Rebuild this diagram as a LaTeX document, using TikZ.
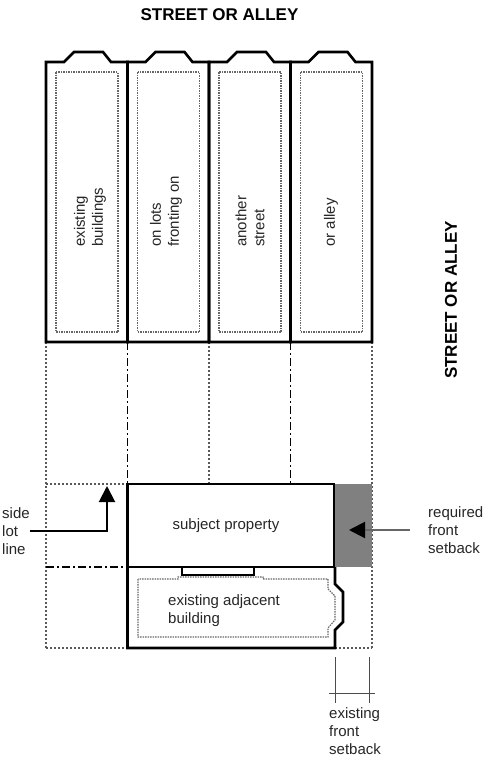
\documentclass[tikz,border=0pt]{standalone}
\usepackage{fontspec}
\setmainfont{Liberation Sans}
\usetikzlibrary{arrows.meta}
\tikzset{
  wall/.style = {draw = black, line width = 2.6pt, line join = miter},
  innerline/.style = {draw = black!60, line width = 1.1pt, dash pattern = on 1.5pt off 1pt},
  lotline/.style = {draw = black, line width = 1.8pt, dash pattern = on 8pt off 3pt on 2pt off 3pt},
  lotdot/.style = {draw = black!65, line width = 1.4pt, dash pattern = on 2pt off 2pt},
  lbl/.style = {font = \fontsize{15}{18}\selectfont, align = left, inner sep = 0pt, text = black!85},
  ttl/.style = {font = \fontsize{17}{20}\selectfont\bfseries, inner sep = 0pt},
  ptr/.style = {line width = 2pt, -{Triangle[length = 16pt, width = 16pt, color = black]}},
  dimline/.style = {draw = black!70, line width = 0.9pt}
}
\begin{document}
\begin{tikzpicture}[x = 1pt, y = -1pt]
\useasboundingbox (0,0) rectangle (491,763);
\pgfmathsetmacro\lotleft{46};
\pgfmathsetmacro\lotw{81.5};
\node[ttl] (topstreet) at (219.5,15) {STREET OR ALLEY};
\node[ttl, rotate = 90] (sidestreet) at (451,300) {STREET OR ALLEY};
\draw[lotdot] (46,342) -- (46,648);
\draw[lotdot] (372,342) -- (372,648);
\draw[lotline] (127.5,342) -- (127.5,484);
\draw[lotdot] (209,342) -- (209,484);
\draw[lotline] (290.5,342) -- (290.5,484);
\draw[lotdot] (46,484) -- (127.5,484);
\draw[lotline] (46,567) -- (127.5,567);
\draw[lotdot] (46,648) -- (127.5,648);
\draw[lotdot] (335,648) -- (372,648);
\foreach \n in {0,...,3} {
  \pgfmathsetmacro\lx{\lotleft+\n*\lotw}
  \draw[wall] (\lx,342) -- (\lx,62) -- (\lx+18,62) -- (\lx+28,52) -- (\lx+57,52) -- (\lx+65,62) -- (\lx+\lotw,62) -- (\lx+\lotw,342) -- cycle;
  \draw[innerline] (\lx+10,72) rectangle (\lx+72,332);
}
\node[lbl, rotate = 90, anchor = west] (lottxt1) at (90,247) {existing\\buildings};
\node[lbl, rotate = 90, anchor = west] (lottxt2) at (166,247) {on lots\\fronting on};
\node[lbl, rotate = 90, anchor = west] (lottxt3) at (250,247) {another\\street};
\node[lbl, rotate = 90, anchor = west] (lottxt4) at (331,247) {or alley};
\fill[black!50] (334,484) rectangle (372,567);
\draw[wall] (127.5,484) rectangle (334,567);
\node[lbl] (subject) at (226,526) {subject property};
\draw[wall] (127.5,567) -- (127.5,648) -- (335,648) -- (335,630) -- (343,622) -- (343,592) -- (335,584) -- (335,567);
\draw[wall] (182,567) rectangle (254,575);
\draw[innerline] (138,579) -- (138,637) -- (328,637) -- (328,628) -- (335,620) -- (335,596) -- (328,589) -- (328,579) -- (263,579) -- (263,577) -- (178,577) -- (178,579) -- cycle;
\node[lbl, anchor = north west] (adjacent) at (168,594) {existing adjacent\\building};
\node[lbl, anchor = west] (sidelot) at (2,531) {side\\lot\\line};
\coordinate (sidetip) at (107,486);
\draw[ptr] (sidelot.east) -| (sidetip);
\node[lbl, anchor = west] (required) at (428,530) {required\\front\\setback};
\coordinate (reqtip) at (349,530);
\draw[ptr, draw = black!60] ([xshift = -18pt]required.west) -- (reqtip);
\draw[dimline] (335,657) -- (335,703);
\draw[dimline] (369,657) -- (369,703);
\draw[dimline] (329,693) -- (375,693);
\node[lbl, anchor = north west] (existing) at (329,707) {existing\\front\\setback};
\end{tikzpicture}
\end{document}
